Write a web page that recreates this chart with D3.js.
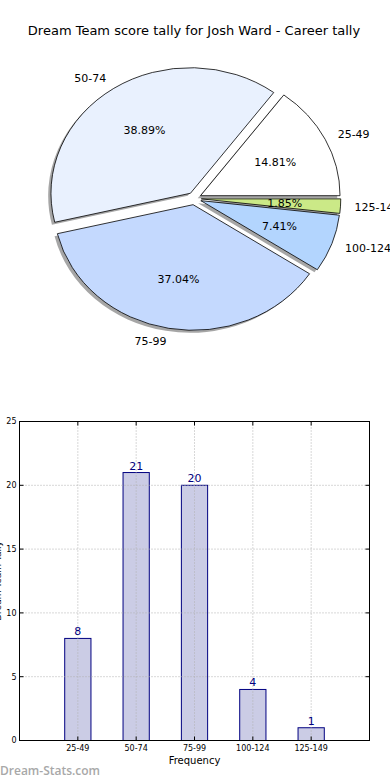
<!DOCTYPE html>
<html>
<head>
<meta charset="utf-8">
<script src="https://cdn.jsdelivr.net/npm/d3@7.9.0/dist/d3.min.js"></script>
<style>
  body { margin: 0; background: #fff; }
  svg { display: block; font-family: "DejaVu Sans", sans-serif; }
</style>
</head>
<body>
<div id="chart"></div>
<script>
// data
const categories = ["25-49", "50-74", "75-99", "100-124", "125-149"];
const counts     = [8, 21, 20, 4, 1];
const sliceColors = ["#ffffff", "#e9f1fe", "#c4d9fe", "#b3d5fe", "#cbe987"];
const yTicks = [0, 5, 10, 15, 20, 25];

const W = 390, H = 780;
const svg = d3.select("#chart").append("svg")
  .attr("width", W).attr("height", H);

// title
svg.append("text")
  .attr("x", 194).attr("y", 35)
  .attr("text-anchor", "middle")
  .style("font-size", "13px")
  .text("Dream Team score tally for Josh Ward - Career tally");

// ---- pie (matplotlib style: starts east, counter-clockwise, all exploded) ----
const cx = 194.3, cy = 198.5, rx = 139.5, ry = 125.6;
const total = d3.sum(counts);
const explode = 0.05;

const pie = d3.pie().sort(null)
  .startAngle(Math.PI / 2)
  .endAngle(Math.PI / 2 - 2 * Math.PI);
const arcs = pie(counts);
const arc = d3.arc().innerRadius(0).outerRadius(1);

const pieG = svg.append("g");

function offsetOf(d) {
  const m = (d.startAngle + d.endAngle) / 2;
  return [Math.sin(m), -Math.cos(m)];
}

// shadows first
arcs.forEach((d, i) => {
  const [ux, uy] = offsetOf(d);
  const ox = cx + explode * rx * ux - 0.02 * rx;
  const oy = cy + explode * ry * uy + 0.02 * ry;
  pieG.append("path")
    .attr("d", arc(d))
    .attr("transform", `translate(${ox},${oy}) scale(${rx},${ry})`)
    .attr("fill", "#4d4d4d")
    .attr("fill-opacity", 0.5);
});

arcs.forEach((d, i) => {
  const [ux, uy] = offsetOf(d);
  const ox = cx + explode * rx * ux;
  const oy = cy + explode * ry * uy;
  pieG.append("path")
    .attr("d", arc(d))
    .attr("transform", `translate(${ox},${oy}) scale(${rx},${ry})`)
    .attr("fill", sliceColors[i])
    .attr("stroke", "#000")
    .attr("stroke-width", 0.8)
    .attr("vector-effect", "non-scaling-stroke");

  // category label at 1.1 r
  const lx = ox + 1.1 * rx * ux;
  const ly = oy + 1.1 * ry * uy;
  pieG.append("text")
    .attr("x", lx).attr("y", ly)
    .attr("dy", "0.35em")
    .attr("text-anchor", ux > 0 ? "start" : "end")
    .style("font-size", "11px")
    .text(categories[i]);

  // percent label at 0.6 r
  pieG.append("text")
    .attr("x", ox + 0.6 * rx * ux).attr("y", oy + 0.6 * ry * uy)
    .attr("dy", "0.35em")
    .attr("text-anchor", "middle")
    .style("font-size", "11px")
    .text((100 * d.value / total).toFixed(2) + "%");
});

// ---- bar chart ----
const x = d3.scaleLinear().domain([-1, 5]).range([19.5, 369.5]);
const y = d3.scaleLinear().domain([0, 25]).range([740.5, 421.5]);
const barW = 0.45;

const barG = svg.append("g");

barG.selectAll(".bar")
  .data(counts)
  .enter().append("rect")
    .attr("class", "bar")
    .attr("x", (d, i) => x(i - barW / 2))
    .attr("y", d => y(d))
    .attr("width", x(barW) - x(0))
    .attr("height", d => y(0) - y(d))
    .attr("fill", "#cbcce5")
    .attr("stroke", "#000080")
    .attr("stroke-width", 1);

// dotted grid on top of bars
yTicks.forEach(t => {
  barG.append("line")
    .attr("x1", x(-1)).attr("x2", x(5))
    .attr("y1", y(t)).attr("y2", y(t))
    .attr("stroke", "#b0b0b0")
    .attr("stroke-dasharray", "1,2");
});
categories.forEach((c, i) => {
  barG.append("line")
    .attr("x1", x(i)).attr("x2", x(i))
    .attr("y1", y(0)).attr("y2", y(25))
    .attr("stroke", "#b0b0b0")
    .attr("stroke-dasharray", "1,2");
});

// frame
barG.append("rect")
  .attr("x", x(-1)).attr("y", y(25))
  .attr("width", x(5) - x(-1)).attr("height", y(0) - y(25))
  .attr("fill", "none")
  .attr("stroke", "#000")
  .attr("stroke-width", 1);

// ticks + tick labels
yTicks.forEach(t => {
  barG.append("line")
    .attr("x1", x(-1)).attr("x2", x(-1) + 4)
    .attr("y1", y(t)).attr("y2", y(t))
    .attr("stroke", "#000");
  barG.append("line")
    .attr("x1", x(5)).attr("x2", x(5) - 4)
    .attr("y1", y(t)).attr("y2", y(t))
    .attr("stroke", "#000");
  barG.append("text")
    .attr("x", x(-1) - 3).attr("y", y(t))
    .attr("dy", "0.35em")
    .attr("text-anchor", "end")
    .style("font-size", "8px")
    .text(t);
});
categories.forEach((c, i) => {
  barG.append("line")
    .attr("x1", x(i)).attr("x2", x(i))
    .attr("y1", y(0)).attr("y2", y(0) - 4)
    .attr("stroke", "#000");
  barG.append("line")
    .attr("x1", x(i)).attr("x2", x(i))
    .attr("y1", y(25)).attr("y2", y(25) + 4)
    .attr("stroke", "#000");
  barG.append("text")
    .attr("x", x(i)).attr("y", y(0) + 10)
    .attr("text-anchor", "middle")
    .style("font-size", "8px")
    .text(c);
});

// value labels
barG.selectAll(".val")
  .data(counts)
  .enter().append("text")
    .attr("class", "val")
    .attr("x", (d, i) => x(i))
    .attr("y", d => y(d) - 3)
    .attr("text-anchor", "middle")
    .attr("fill", "#000080")
    .style("font-size", "11px")
    .text(d => d);

// axis labels
barG.append("text")
  .attr("x", x(2)).attr("y", 764)
  .attr("text-anchor", "middle")
  .style("font-size", "10px")
  .text("Frequency");

barG.append("text")
  .attr("transform", `translate(1,${y(12.5)}) rotate(-90)`)
  .attr("text-anchor", "middle")
  .style("font-size", "9px")
  .text("Dream Team Tally");

// watermark
svg.append("text")
  .attr("x", 0).attr("y", 775)
  .attr("fill", "#a8a8a8")
  .style("font-family", "'Open Sans', sans-serif")
  .style("font-size", "12px")
  .style("font-weight", "600")
  .text("Dream-Stats.com");
</script>
</body>
</html>
